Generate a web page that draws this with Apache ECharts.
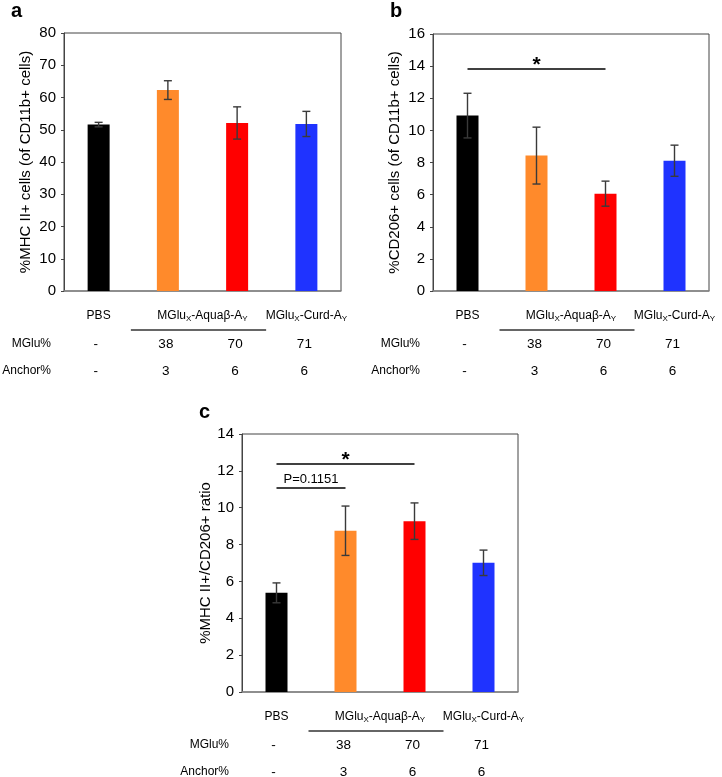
<!DOCTYPE html>
<html>
<head>
<meta charset="utf-8">
<script src="https://cdn.jsdelivr.net/npm/echarts@6/dist/echarts.min.js"></script>
<style>
html,body{margin:0;padding:0;background:#fff;}
#c{width:722px;height:777px;}
</style>
</head>
<body>
<div id="c"></div>
<script>
// ---- data ----
const categories = ['PBS', 'Aqua 38/3', 'Aqua 70/6', 'Curd 71/6'];
const barColors = ['#000000', '#FF8A2B', '#FF0000', '#1F33FF'];

const mhcMean = [51.6, 62.3, 52.1, 51.8];
const mhcErr = [0.7, 2.9, 5.0, 3.9];

const cd206Mean = [10.92, 8.43, 6.06, 8.11];
const cd206Err = [1.39, 1.77, 0.78, 0.97];

const ratioMean = [5.38, 8.75, 9.27, 7.01];
const ratioErr = [0.54, 1.34, 0.99, 0.69];

const sigB = [{ from: 0, to: 2, y: 13.83, label: '*' }];
const sigC = [
  { from: 0, to: 2, y: 12.39, label: '*' },
  { from: 0, to: 1, y: 11.11, label: 'P=0.1151' }
];

const groupLabels = ['PBS', 'MGlu{s|X}-Aquaβ-A{s|Y}', 'MGlu{s|X}-Curd-A{s|Y}'];
const groupSpans = [[0, 0], [1, 2], [3, 3]];
const mgluPct = ['-', '38', '70', '71'];
const anchorPct = ['-', '3', '6', '6'];
const rowNames = ['MGlu%', 'Anchor%'];

const yNames = ['%MHC II+ cells (of CD11b+ cells)', '%CD206+ cells (of CD11b+ cells)', '%MHC II+/CD206+ ratio'];
const yMax = [80, 16, 14];
const yInterval = [10, 2, 2];
const panelLetters = ['a', 'b', 'c'];

// ---- layout ----
const FONT = '"Liberation Sans", Arial, sans-serif';
const grids = [
  { left: 64, top: 33, width: 277, height: 258 },
  { left: 433, top: 34, width: 276, height: 257 },
  { left: 242, top: 434, width: 276, height: 258 }
];
const nameGaps = [31, 31, 29];

const means = [mhcMean, cd206Mean, ratioMean];
const errs = [mhcErr, cd206Err, ratioErr];
const sigs = [[], sigB, sigC];

const chart = echarts.init(document.getElementById('c'), null, { renderer: 'canvas' });

const xAxes = [], yAxes = [], series = [];
for (let k = 0; k < 3; k++) {
  xAxes.push({
    type: 'category', gridIndex: k, data: categories,
    axisLine: { lineStyle: { color: '#888888', width: 1.5 } },
    axisTick: { show: false }, axisLabel: { show: false }
  });
  yAxes.push({
    type: 'value', gridIndex: k, min: 0, max: yMax[k], interval: yInterval[k],
    name: yNames[k], nameLocation: 'middle', nameGap: nameGaps[k],
    nameTextStyle: { fontFamily: FONT, fontSize: 15, color: '#000' },
    axisLine: { show: true, lineStyle: { color: '#444', width: 1 } },
    axisTick: { show: true, length: 3, lineStyle: { color: '#444' } },
    axisLabel: { fontFamily: FONT, fontSize: 15, color: '#000', margin: 8 },
    splitLine: { show: false }
  });
  const markData = sigs[k].map(s => {
    const isStar = s.label === '*';
    return [
      { coord: [s.from, s.y], label: isStar
          ? { formatter: s.label, fontSize: 21, fontWeight: 'bold', distance: -7 }
          : { formatter: s.label, fontSize: 13, distance: 1 } },
      { coord: [s.to, s.y] }
    ];
  });
  series.push({
    type: 'bar', xAxisIndex: k, yAxisIndex: k, barWidth: 22,
    data: means[k].map((v, i) => ({ value: v, itemStyle: { color: barColors[i] } })),
    markLine: markData.length ? {
      silent: true, symbol: 'none', animation: false,
      lineStyle: { color: '#000', width: 1.5, type: 'solid' },
      label: { show: true, position: 'middle', color: '#000', fontFamily: FONT },
      data: markData
    } : undefined
  });
  series.push({
    type: 'custom', xAxisIndex: k, yAxisIndex: k, z: 5,
    data: means[k].map((v, i) => [i, v - errs[k][i], v + errs[k][i]]),
    renderItem: function (params, api) {
      const lo = api.coord([api.value(0), api.value(1)]);
      const hi = api.coord([api.value(0), api.value(2)]);
      const w = 4;
      const st = { stroke: '#3a3a3a', lineWidth: 1.4 };
      return {
        type: 'group', children: [
          { type: 'line', shape: { x1: hi[0], y1: hi[1], x2: lo[0], y2: lo[1] }, style: st },
          { type: 'line', shape: { x1: hi[0] - w, y1: hi[1], x2: hi[0] + w, y2: hi[1] }, style: st },
          { type: 'line', shape: { x1: lo[0] - w, y1: lo[1], x2: lo[0] + w, y2: lo[1] }, style: st }
        ]
      };
    }
  });
}

chart.setOption({
  animation: false,
  backgroundColor: '#fff',
  grid: grids.map(g => Object.assign({ show: true, borderColor: '#444', borderWidth: 1, containLabel: false }, g)),
  xAxis: xAxes,
  yAxis: yAxes,
  series: series
});

// ---- table beneath each chart and panel letters ----
const graphics = [];
const letterPos = [[17, 12], [396, 12], [205, 413]];
for (let k = 0; k < 3; k++) {
  graphics.push({
    type: 'text', left: letterPos[k][0] - 6, top: letterPos[k][1] - 11,
    style: { text: panelLetters[k], font: 'bold 20px ' + FONT, fill: '#000' }
  });
  const cx = categories.map((c, i) => chart.convertToPixel({ xAxisIndex: k }, i));
  const y0 = chart.convertToPixel({ yAxisIndex: k }, 0);
  const gl = grids[k].left;
  const rich = { s: { fontSize: 8, fontFamily: FONT, fill: '#000', verticalAlign: 'bottom', padding: [6, 0, 0, 0] } };
  groupLabels.forEach((t, gi) => {
    const span = groupSpans[gi];
    const x = (cx[span[0]] + cx[span[1]]) / 2;
    graphics.push({
      type: 'text', x: x, y: y0 + 25,
      style: { text: t, rich: rich, font: '12px ' + FONT, fill: '#000', align: 'center', verticalAlign: 'middle' }
    });
    if (span[1] > span[0]) {
      graphics.push({
        type: 'line', shape: { x1: cx[span[0]] - 37, y1: y0 + 39, x2: cx[span[1]] + 29, y2: y0 + 39 },
        style: { stroke: '#333', lineWidth: 1.5 }
      });
    }
  });
  const rows = [mgluPct, anchorPct];
  rows.forEach((vals, ri) => {
    const yy = y0 + (ri === 0 ? 53 : 80);
    graphics.push({
      type: 'text', x: gl - 13, y: yy,
      style: { text: rowNames[ri], font: '12px ' + FONT, fill: '#000', align: 'right', verticalAlign: 'middle' }
    });
    vals.forEach((v, i) => {
      graphics.push({
        type: 'text', x: cx[i] - (i === 0 ? 3 : 2), y: yy,
        style: { text: v, font: '13.5px ' + FONT, fill: '#000', align: 'center', verticalAlign: 'middle' }
      });
    });
  });
}
chart.setOption({ graphic: graphics });
</script>
</body>
</html>
